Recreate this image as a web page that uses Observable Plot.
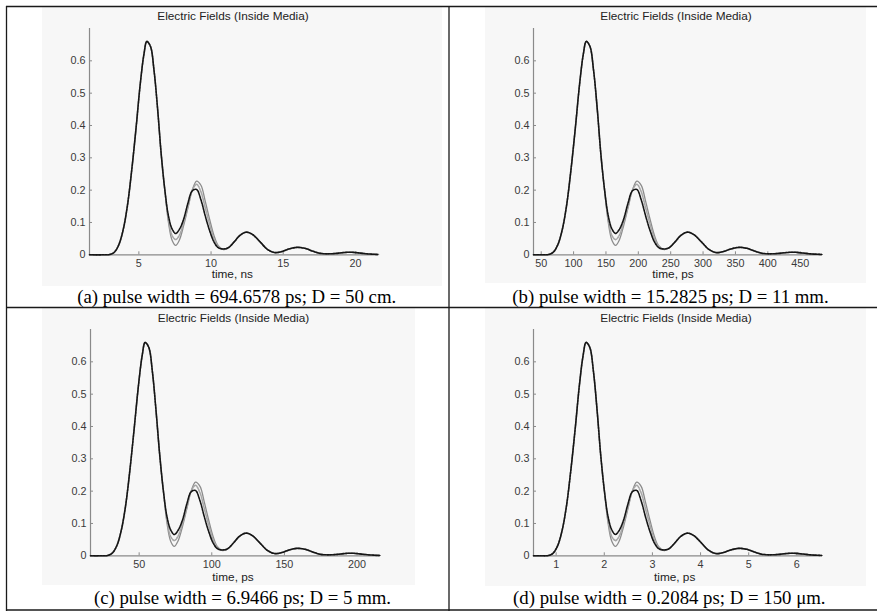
<!DOCTYPE html>
<html>
<head>
<meta charset="utf-8">
<script src="https://cdn.jsdelivr.net/npm/d3@7"></script>
<script src="https://cdn.jsdelivr.net/npm/@observablehq/plot@0.6"></script>
<style>
  html, body { margin: 0; padding: 0; background: #fff; }
  #root { position: relative; width: 877px; height: 611px; overflow: hidden; background: #fff; }
  #root > svg.overlay { position: absolute; left: 0; top: 0; }
  .plot { position: absolute; }
</style>
</head>
<body>
<div id="root"></div>
<script>
// ---- Data ----
// Sample times for each panel (panel units)
const tA = [1.58, 2.5, 3.0, 3.3, 3.6, 3.9, 4.2, 4.5, 4.8, 5.1, 5.35, 5.55, 5.8, 6.05, 6.3, 6.55, 6.8, 7.05, 7.3, 7.55, 7.8, 8.1, 8.4, 8.7, 9.0, 9.3, 9.6, 9.9, 10.2, 10.5, 10.85, 11.2, 11.6, 12.0, 12.45, 12.9, 13.4, 13.9, 14.4, 14.9, 15.4, 15.95, 16.5, 17.0, 17.5, 18.0, 18.6, 19.2, 19.7, 20.2, 20.8, 21.6];
const tB = [38.1, 50.5, 61.8, 68.6, 75.4, 82.2, 89.0, 95.8, 102.6, 109.4, 115.0, 119.6, 125.2, 130.9, 136.6, 142.2, 147.9, 153.6, 159.2, 164.9, 170.5, 177.3, 184.1, 190.9, 197.7, 204.5, 211.3, 218.1, 224.9, 231.7, 239.7, 247.6, 256.7, 265.7, 275.9, 286.1, 297.4, 308.8, 320.1, 331.4, 342.8, 355.2, 367.7, 379.0, 390.4, 401.7, 415.3, 428.9, 440.2, 451.5, 465.1, 483.3];
const tC = [16.5, 23.4, 28.4, 31.4, 34.5, 37.5, 40.5, 43.5, 46.5, 49.6, 52.1, 54.1, 56.6, 59.1, 61.6, 64.2, 66.7, 69.2, 71.7, 74.2, 76.7, 79.8, 82.8, 85.8, 88.8, 91.9, 94.9, 97.9, 100.9, 103.9, 107.5, 111.0, 115.0, 119.0, 123.6, 128.1, 133.1, 138.2, 143.2, 148.2, 153.3, 158.8, 164.4, 169.4, 174.4, 179.5, 185.5, 191.5, 196.6, 201.6, 207.7, 215.7];
const tD = [0.53, 0.69, 0.845, 0.936, 1.028, 1.119, 1.211, 1.302, 1.394, 1.485, 1.561, 1.622, 1.698, 1.775, 1.851, 1.927, 2.003, 2.080, 2.156, 2.232, 2.308, 2.400, 2.491, 2.583, 2.674, 2.766, 2.857, 2.949, 3.040, 3.131, 3.238, 3.345, 3.467, 3.589, 3.726, 3.863, 4.016, 4.168, 4.321, 4.473, 4.625, 4.793, 4.961, 5.113, 5.266, 5.418, 5.601, 5.784, 5.936, 6.089, 6.272, 6.516];

// Field amplitudes of the three curves (same waveform in every panel)
const fieldDark = [0, 0, 0.001, 0.008, 0.03, 0.075, 0.15, 0.26, 0.39, 0.53, 0.62, 0.66, 0.645, 0.57, 0.45, 0.31, 0.20, 0.12, 0.08, 0.066, 0.078, 0.11, 0.16, 0.198, 0.202, 0.17, 0.12, 0.075, 0.04, 0.022, 0.018, 0.022, 0.04, 0.06, 0.07, 0.062, 0.04, 0.017, 0.007, 0.01, 0.018, 0.023, 0.02, 0.012, 0.005, 0.003, 0.004, 0.007, 0.008, 0.006, 0.003, 0.001];
const fieldMid = [0, 0, 0.001, 0.008, 0.03, 0.075, 0.15, 0.26, 0.39, 0.53, 0.62, 0.66, 0.645, 0.57, 0.45, 0.31, 0.20, 0.11, 0.06, 0.047, 0.06, 0.10, 0.15, 0.20, 0.218, 0.195, 0.145, 0.095, 0.05, 0.026, 0.017, 0.022, 0.04, 0.06, 0.07, 0.062, 0.04, 0.017, 0.007, 0.01, 0.018, 0.023, 0.02, 0.012, 0.005, 0.003, 0.004, 0.007, 0.008, 0.006, 0.003, 0.001];
const fieldLight = [0, 0, 0.001, 0.008, 0.03, 0.075, 0.15, 0.26, 0.39, 0.53, 0.62, 0.66, 0.645, 0.57, 0.45, 0.31, 0.20, 0.10, 0.045, 0.029, 0.045, 0.09, 0.145, 0.20, 0.228, 0.215, 0.165, 0.11, 0.06, 0.028, 0.016, 0.022, 0.04, 0.06, 0.07, 0.062, 0.04, 0.017, 0.007, 0.01, 0.018, 0.023, 0.02, 0.012, 0.005, 0.003, 0.004, 0.007, 0.008, 0.006, 0.003, 0.001];

// Axes
const yTicks = [0, 0.1, 0.2, 0.3, 0.4, 0.5, 0.6];
const xTicksA = [5, 10, 15, 20];
const xTicksB = [50, 100, 150, 200, 250, 300, 350, 400, 450];
const xTicksC = [50, 100, 150, 200];
const xTicksD = [1, 2, 3, 4, 5, 6];
const domainA = [1.58, 21.6];
const domainB = [38.1, 483.5];
const domainC = [16.5, 215.7];
const domainD = [0.53, 6.52];

// Text
const plotTitle = "Electric Fields (Inside Media)";
const xLabels = ["time, ns", "time, ps", "time, ps", "time, ps"];
const captions = [
  "(a) pulse width = 694.6578 ps; D = 50 cm.",
  "(b) pulse width = 15.2825 ps; D = 11 mm.",
  "(c) pulse width = 6.9466 ps; D = 5 mm.",
  "(d) pulse width = 0.2084 ps; D = 150 \u03bcm."
];

// ---- Layout ----
const root = document.getElementById("root");
const panels = [
  {t: tA, dom: domainA, ticks: xTicksA, x0: 89.3, x1: 378.3, yBot: 254,
   bg: [42, 7, 400, 279], titleX: 233, titleY: 19.5, xlX: 232.3, xlY: 278, capX: 236.7, capY: 302.5},
  {t: tB, dom: domainB, ticks: xTicksB, x0: 533.3, x1: 821.7, yBot: 254,
   bg: [485, 7, 381, 276], titleX: 676, titleY: 19.5, xlX: 673, xlY: 278, capX: 670.5, capY: 302.5},
  {t: tC, dom: domainC, ticks: xTicksC, x0: 90, x1: 379.3, yBot: 555.7,
   bg: [42, 308, 373, 277], titleX: 233.5, titleY: 321.5, xlX: 233, xlY: 581, capX: 242.5, capY: 604},
  {t: tD, dom: domainD, ticks: xTicksD, x0: 533.3, x1: 821.7, yBot: 555.7,
   bg: [485, 308, 381, 278], titleX: 676, titleY: 321.5, xlX: 674.7, xlY: 581, capX: 669.3, capY: 604}
];

// background layer
const under = d3.select(root).append("svg").attr("class", "overlay").attr("width", 877).attr("height", 611);
panels.forEach(p => {
  under.append("rect").attr("x", p.bg[0]).attr("y", p.bg[1]).attr("width", p.bg[2]).attr("height", p.bg[3]).attr("fill", "#f7f7f7");
});

const pxPerUnitY = 323.3; // pixels per 1.0 of field
const mL = 45, mR = 10, mT = 8, mB = 30;
panels.forEach(p => {
  const innerW = p.x1 - p.x0;
  const innerH = 0.7 * pxPerUnitY;
  const yTop = p.yBot - innerH;
  const chart = Plot.plot({
    width: innerW + mL + mR,
    height: innerH + mT + mB,
    marginLeft: mL, marginRight: mR, marginTop: mT, marginBottom: mB,
    x: {domain: p.dom},
    y: {domain: [0, 0.7]},
    style: {background: "transparent", fontFamily: "'Liberation Sans', Arial, Helvetica, sans-serif", fontSize: "10.8px", color: "#333", overflow: "visible"},
    marks: [
      Plot.ruleY([0], {stroke: "#8a8a8a", strokeWidth: 1.2}),
      Plot.ruleX([p.dom[0]], {stroke: "#8a8a8a", strokeWidth: 1.2}),
      Plot.tickX(p.ticks, {x: d => d, stroke: "#8a8a8a", insetTop: innerH - 3}),
      Plot.tickY(yTicks, {y: d => d, stroke: "#8a8a8a", insetRight: innerW - 3}),
      Plot.axisX(p.ticks, {tickSize: 0, tickPadding: 4.5, label: null, fill: "#3a3a3a"}),
      Plot.axisY(yTicks, {tickSize: 0, tickPadding: 4, label: null, fill: "#3a3a3a", tickFormat: d => d === 0 ? "0" : String(d)}),
      Plot.line(p.t, {x: p.t, y: fieldLight, curve: "catmull-rom", stroke: "#8c8c8c", strokeWidth: 1.3}),
      Plot.line(p.t, {x: p.t, y: fieldMid, curve: "catmull-rom", stroke: "#a8a8a8", strokeWidth: 1.6, strokeDasharray: "1.5,1.2"}),
      Plot.line(p.t, {x: p.t, y: fieldDark, curve: "catmull-rom", stroke: "#151515", strokeWidth: 1.6, strokeDasharray: "2,1"})
    ]
  });
  chart.classList.add("plot");
  chart.style.left = (p.x0 - mL) + "px";
  chart.style.top = (yTop - mT) + "px";
  root.appendChild(chart);
});

// foreground layer: borders and text
const over = d3.select(root).append("svg").attr("class", "overlay").attr("width", 877).attr("height", 611);
const borderColor = "#1a1a1a";
[[6, 6.5, 877, 6.5], [6, 307.5, 877, 307.5], [6, 610, 877, 610],
 [6.5, 6, 6.5, 611], [449, 6, 449, 611]].forEach(l => {
  over.append("line").attr("x1", l[0]).attr("y1", l[1]).attr("x2", l[2]).attr("y2", l[3])
    .attr("stroke", borderColor).attr("stroke-width", 1.3);
});
panels.forEach((p, i) => {
  over.append("text").attr("x", p.titleX).attr("y", p.titleY).attr("text-anchor", "middle")
    .attr("font-family", "'Liberation Sans', Arial, sans-serif").attr("font-size", 11.8).attr("fill", "#222").text(plotTitle);
  over.append("text").attr("x", p.xlX).attr("y", p.xlY).attr("text-anchor", "middle")
    .attr("font-family", "'Liberation Sans', Arial, sans-serif").attr("font-size", 11.8).attr("fill", "#222").text(xLabels[i]);
  over.append("text").attr("x", p.capX).attr("y", p.capY).attr("text-anchor", "middle")
    .attr("font-family", "'Liberation Serif', 'Times New Roman', serif").attr("font-size", 18.8).attr("fill", "#000").text(captions[i]);
});
</script>
</body>
</html>
